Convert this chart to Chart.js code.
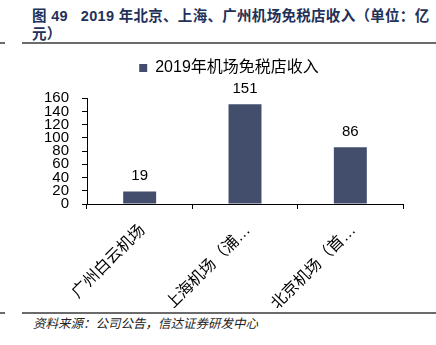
<!DOCTYPE html>
<html>
<head>
<meta charset="utf-8">
<script src="https://cdn.jsdelivr.net/npm/chart.js@4/dist/chart.umd.min.js"></script>
<style>
  body { margin: 0; background: #fff; width: 436px; height: 345px; position: relative; overflow: hidden; }
  #title { position: absolute; left: 32px; top: 7px; width: 404px; font: bold 14.5px 'Liberation Sans', 'Noto Sans CJK SC', sans-serif; color: #22315a; line-height: 18px; letter-spacing: 0.3px; }
  .rule { position: absolute; height: 2px; background: #6b6b6b; }
  #source { position: absolute; left: 33px; top: 313px; font: italic 12.5px 'Noto Sans CJK SC', sans-serif; color: #222; }
  #wrap { position: absolute; left: 0; top: 50px; width: 436px; height: 258px; }
</style>
</head>
<body>
<div id="title">图 49&nbsp;&nbsp;&nbsp;2019 年北京、上海、广州机场免税店收入（单位：亿元）</div>
<div class="rule" style="left:22px; top:42px; width:414px;"></div>
<div class="rule" style="left:0; top:42px; width:5px;"></div>
<div id="wrap"><canvas id="myChart"></canvas></div>
<div class="rule" style="left:22px; top:312px; width:414px;"></div>
<div class="rule" style="left:0; top:312px; width:5px;"></div>
<div id="source">资料来源：公司公告，信达证券研发中心</div>
<script>
var seriesName = '2019年机场免税店收入';
var airports = ['广州白云机场', '上海机场（浦…', '北京机场（首…'];
var revenue = [19, 151, 86];
var yTicks = [0, 20, 40, 60, 80, 100, 120, 140, 160];

var fontFamily = "'Liberation Sans', 'Noto Sans CJK SC', sans-serif";
var barColor = '#434e6c';

// numbers above the bars
var valueLabels = {
    id: 'valueLabels',
    afterDatasetsDraw: function(chart) {
        var ctx = chart.ctx;
        var meta = chart.getDatasetMeta(0);
        ctx.save();
        ctx.font = '15px ' + fontFamily;
        ctx.fillStyle = '#000';
        ctx.textAlign = 'center';
        ctx.textBaseline = 'alphabetic';
        for (var i = 0; i < meta.data.length; i++) {
            var bar = meta.data[i];
            ctx.fillText(revenue[i], bar.x, bar.y - 11);
        }
        ctx.restore();
    }
};

var ctx = document.getElementById('myChart');
var myChart = new Chart(ctx, {
    type: 'bar',
    data: {
        labels: airports,
        datasets: [{
            label: seriesName,
            data: revenue,
            backgroundColor: barColor,
            borderWidth: 0,
            barPercentage: 0.313,
            categoryPercentage: 1
        }]
    },
    options: {
        responsive: true,
        maintainAspectRatio: false,
        animation: false,
        // left padding centres the legend like the original, y axis width makes up the rest
        layout: { padding: { left: 22, right: 0, top: 0, bottom: 0 } },
        plugins: {
            legend: {
                position: 'top',
                weight: 3000,
                labels: {
                    boxWidth: 8,
                    boxHeight: 8,
                    padding: 10,
                    color: '#000',
                    font: { size: 16, family: fontFamily }
                }
            },
            subtitle: {
                display: true,
                text: '',
                font: { size: 1 },
                padding: { top: 0, bottom: 11 }
            },
            tooltip: { enabled: false }
        },
        scales: {
            x: {
                grid: {
                    offset: true,
                    drawOnChartArea: false,
                    tickLength: 5,
                    color: '#000'
                },
                border: { color: '#000', width: 1 },
                ticks: {
                    color: '#000',
                    font: { size: 16, family: fontFamily },
                    minRotation: 45,
                    maxRotation: 45,
                    padding: 12,
                    labelOffset: 3
                },
                afterFit: function(scale) { scale.height = 104; }
            },
            y: {
                min: 0,
                max: 160,
                grid: {
                    drawOnChartArea: false,
                    tickLength: 5,
                    color: '#000'
                },
                border: { color: '#000', width: 1 },
                ticks: {
                    stepSize: 20,
                    autoSkip: false,
                    color: '#000',
                    padding: 13,
                    font: { size: 15, family: fontFamily },
                    callback: function(value) {
                        return yTicks.indexOf(value) >= 0 ? value : '';
                    }
                },
                afterFit: function(scale) { scale.width = 65; }
            },
            // empty axis on the right, only keeps the plot narrower
            yRight: {
                position: 'right',
                display: true,
                grid: { display: false },
                border: { display: false },
                ticks: { display: false },
                afterFit: function(scale) { scale.width = 33; }
            }
        }
    },
    plugins: [valueLabels]
});
</script>
</body>
</html>
